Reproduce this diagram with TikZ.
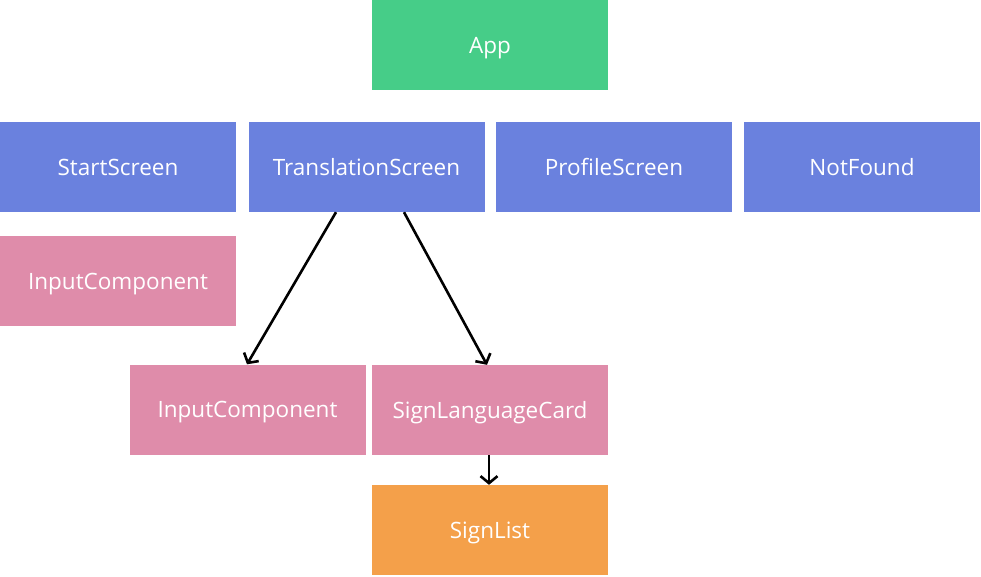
\documentclass[tikz,border=0pt]{standalone}
\usepackage{fontspec}
\setmainfont{Open Sans}
\usetikzlibrary{arrows.meta}
\definecolor{appgreen}{HTML}{46CD88}
\definecolor{screenblue}{HTML}{6A81DE}
\definecolor{comppink}{HTML}{DF8CAA}
\definecolor{listorange}{HTML}{F4A04A}

\begin{document}
\begin{tikzpicture}[node distance=122pt]
  \tikzstyle{component} = [rectangle, fill=comppink, text=white, minimum width=236pt,
                                    minimum height=90pt, inner sep=0pt, text depth=0pt,
                                    font=\fontsize{22.5}{25}\selectfont]
  \tikzstyle{screen} = [component, fill=screenblue]
  \tikzstyle{link} = [->, line width=2.6pt, >={Straight Barb[length=7pt,width=17pt,line width=2.6pt]}]

\useasboundingbox (0pt,0pt) rectangle (981pt,-576pt);
\node[component, fill=appgreen] (app) at (490pt,-45pt) {App};
\node[screen, below of =app, xshift=-123.5pt] (trans) {TranslationScreen};
\node[screen, below of =app, xshift=-372pt] (start) {StartScreen};
\node[screen, below of =app, xshift=124pt] (profile) {ProfileScreen};
\node[screen, below of =app, xshift=372pt] (notfound) {NotFound};
\node[component, below of =start, yshift=8pt] (input) {InputComponent};
\node[component, below of =trans, xshift=-119pt, yshift=-120.5pt] (transinput) {InputComponent};
\node[component, below of =app, yshift=-243pt] (card) {SignLanguageCard};
\node[component, fill=listorange, below of =card, yshift=2pt] (list) {SignList};
\draw[link] ([xshift=-30.5pt]trans.south) -- ([xshift=-0.5pt]transinput.north);
\draw[link] ([xshift=37.5pt]trans.south) -- ([xshift=-3pt]card.north);
\draw[link] ([xshift=-1pt]card.south) -- ([xshift=-1pt]list.north);
\end{tikzpicture}
\end{document}
